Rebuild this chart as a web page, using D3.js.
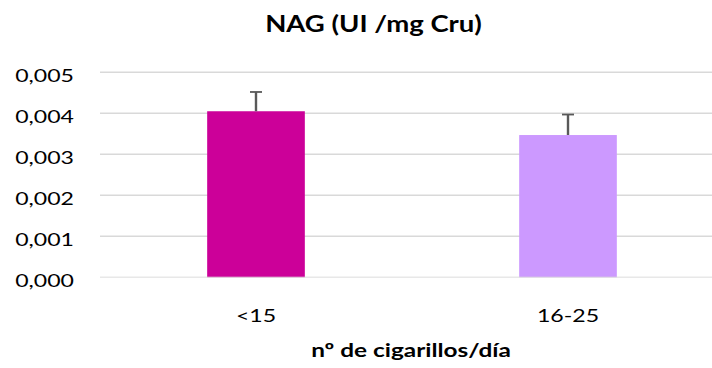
<!DOCTYPE html>
<html>
<head>
<meta charset="utf-8">
<script src="https://cdn.jsdelivr.net/npm/d3@7"></script>
<style>
  html, body { margin: 0; padding: 0; background: #fff; }
  svg { display: block; }
  text { font-family: Lato, "Open Sans", sans-serif; fill: #000; }
</style>
</head>
<body>
<div id="chart"></div>
<script>
// NAG (UI / mg creatinine) by number of cigarettes per day
const categories = ["<15", "16-25"];
const means = [0.00405, 0.00347];
const errors = [0.00047, 0.00050];
const yTicks = [0, 0.001, 0.002, 0.003, 0.004, 0.005];
const barColors = ["#cc0099", "#cc99ff"];
const titleText = "NAG (UI /mg Cru)";
const xTitleText = "nº de cigarillos/día";

const W = 712, H = 368;
const margin = { left: 100, right: -12, top: 72.3, bottom: 90.7 };
const textStretch = 1.4;

const svg = d3.select("#chart").append("svg")
  .attr("width", W).attr("height", H);

const x = d3.scaleBand()
  .domain(categories)
  .range([margin.left, W - margin.right])
  .padding(0);

const y = d3.scaleLinear()
  .domain([0, 0.005])
  .range([H - margin.bottom, margin.top]);

const barW = x.bandwidth() * 0.313;
const fmt = v => d3.format(".3f")(v).replace(".", ",");

// stretched text helper
function label(g, str, tx, ty, opts) {
  const t = g.append("text")
    .attr("transform", `translate(${tx},${ty}) scale(${opts.sx || textStretch},1)`)
    .attr("text-anchor", opts.anchor || "middle")
    .style("font-size", opts.size + "px")
    .style("font-weight", opts.weight || 400)
    .text(str);
  return t;
}

// gridlines
const grid = svg.append("g");
grid.selectAll("line").data(yTicks.filter(d => d > 0)).join("line")
  .attr("x1", margin.left).attr("x2", W - margin.right)
  .attr("y1", d => y(d)).attr("y2", d => y(d))
  .attr("stroke", "#d9d9d9").attr("stroke-width", 1.4);

// bars
svg.append("g").selectAll("rect").data(categories).join("rect")
  .attr("x", (d) => x(d) + x.bandwidth() / 2 - barW / 2)
  .attr("width", barW)
  .attr("y", (d, i) => y(means[i]))
  .attr("height", (d, i) => y(0) - y(means[i]))
  .attr("fill", (d, i) => barColors[i]);

// baseline
svg.append("line")
  .attr("x1", margin.left).attr("x2", W - margin.right)
  .attr("y1", y(0)).attr("y2", y(0))
  .attr("stroke", "#d9d9d9").attr("stroke-width", 1.4)
  .attr("opacity", 0.6);

// error bars (plus side only)
const eb = svg.append("g").attr("stroke", "#595959").attr("stroke-width", 2.4);
categories.forEach((c, i) => {
  const cx = x(c) + x.bandwidth() / 2;
  eb.append("line").attr("x1", cx).attr("x2", cx)
    .attr("y1", y(means[i])).attr("y2", y(means[i] + errors[i]));
  eb.append("line").attr("x1", cx - 6).attr("x2", cx + 6)
    .attr("y1", y(means[i] + errors[i])).attr("y2", y(means[i] + errors[i]))
    .attr("stroke-width", 1.8);
});

// y tick labels
const yl = svg.append("g");
yTicks.forEach(t => label(yl, fmt(t), 74, y(t) + 9.4, { size: 16.5, anchor: "end" }));

// x tick labels
const xl = svg.append("g");
categories.forEach(c => label(xl, c, x(c) + x.bandwidth() / 2, 322, { size: 16.5 }));

// titles
label(svg, titleText, 373.5, 31.7, { size: 22, weight: 700, sx: 1.25 });
label(svg, xTitleText, 411, 357, { size: 19.5, weight: 700, sx: 1.25 });
</script>
</body>
</html>
